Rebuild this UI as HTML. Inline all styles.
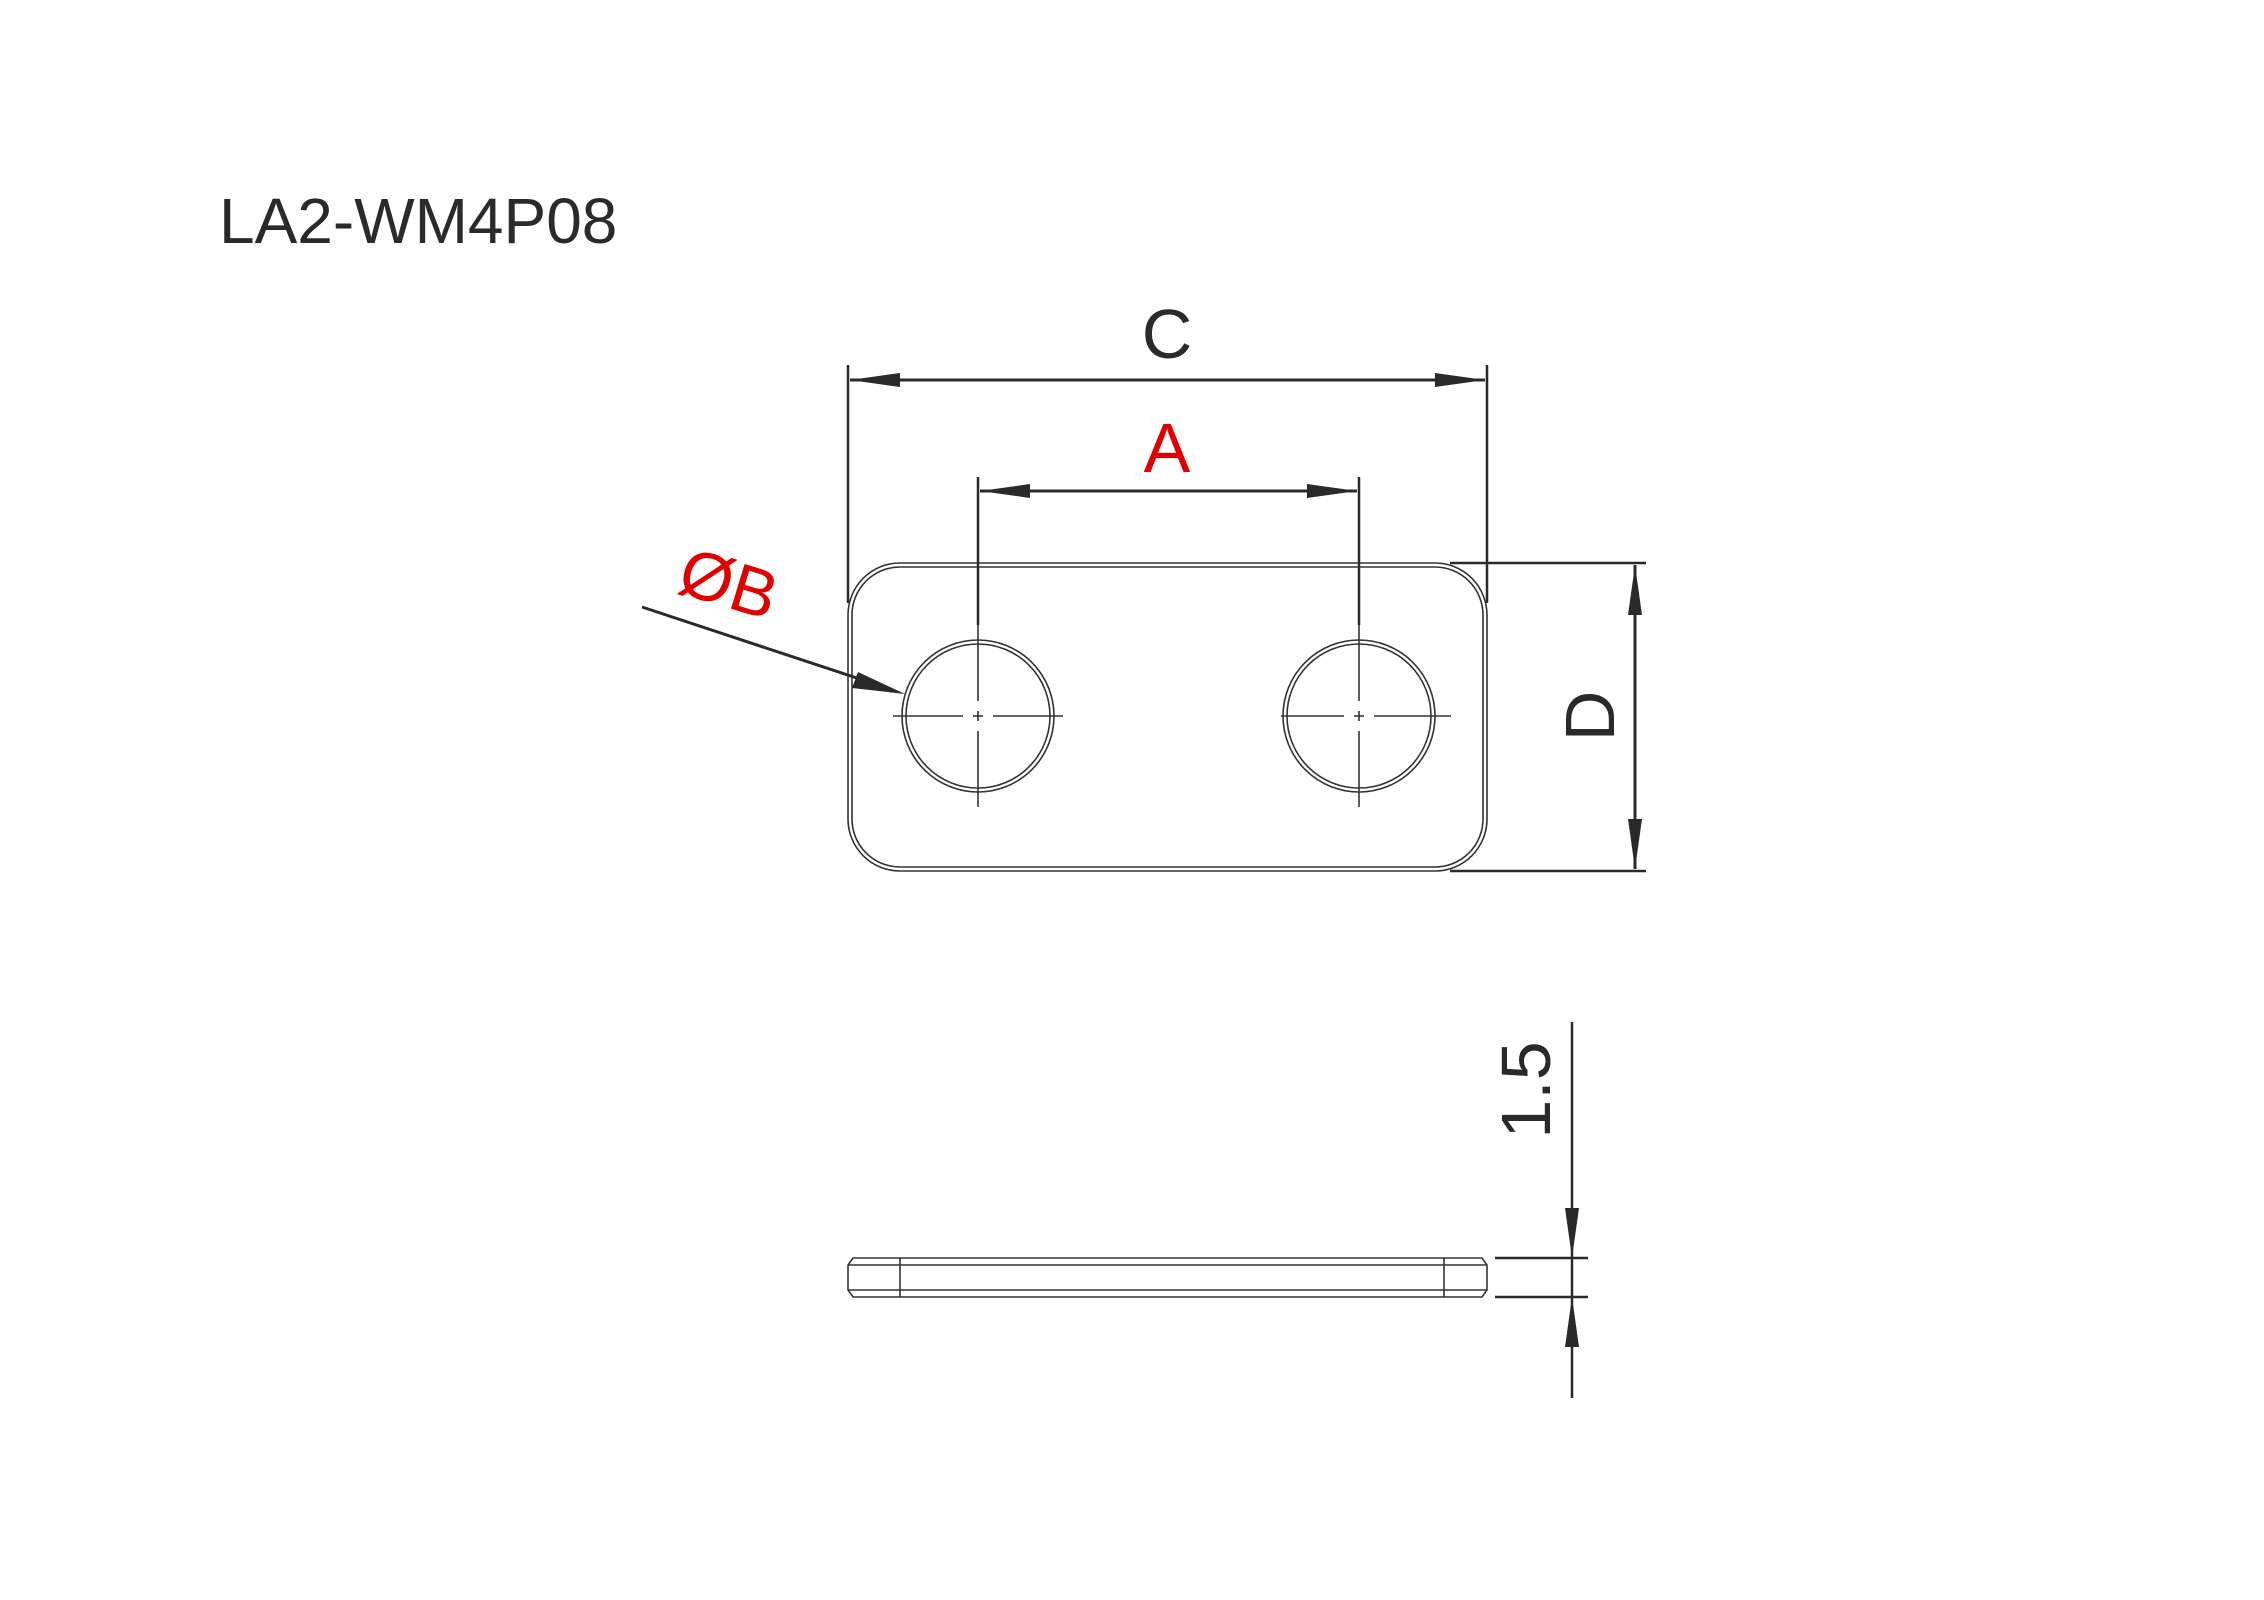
<!DOCTYPE html>
<html><head><meta charset="utf-8"><style>
html,body{margin:0;padding:0;background:#fff;}
svg{display:block;}
text{font-family:"Liberation Sans",sans-serif;}
</style></head><body>
<svg width="2264" height="1600" viewBox="0 0 2264 1600" xmlns="http://www.w3.org/2000/svg">
<rect width="2264" height="1600" fill="#fff"/>
<text x="219" y="243" font-size="64" fill="#2a2a2a">LA2-WM4P08</text>

<g stroke="#2a2a2a" fill="none" stroke-width="2.5">
  <line x1="848" y1="365" x2="848" y2="603"/>
  <line x1="1487" y1="365" x2="1487" y2="603"/>
  <line x1="850" y1="380" x2="1485" y2="380" stroke-width="3"/>
  <line x1="978" y1="477" x2="978" y2="625"/>
  <line x1="1359" y1="477" x2="1359" y2="625"/>
  <line x1="980" y1="491" x2="1357" y2="491" stroke-width="3"/>
  <line x1="1450" y1="563" x2="1646" y2="563"/>
  <line x1="1450" y1="871" x2="1646" y2="871"/>
  <line x1="1635" y1="565" x2="1635" y2="869" stroke-width="3"/>
  <line x1="642" y1="607" x2="890" y2="689" stroke-width="3"/>
</g>
<g fill="#2a2a2a">
  <polygon points="850,380 900,373 900,387"/>
  <polygon points="1485,380 1435,373 1435,387"/>
  <polygon points="980,491 1030,484 1030,498"/>
  <polygon points="1357,491 1307,484 1307,498"/>
  <polygon points="1635,565 1628,615 1642,615"/>
  <polygon points="1635,869 1628,819 1642,819"/>
  <polygon points="905,694 858,672 852,688"/>
</g>

<g stroke="#333" fill="none" stroke-width="1.6">
  <rect x="848" y="563" width="639" height="308" rx="52"/>
  <rect x="852" y="567" width="631" height="300" rx="48"/>
  <circle cx="978" cy="716" r="76"/>
  <circle cx="978" cy="716" r="72"/>
  <circle cx="1359" cy="716" r="76"/>
  <circle cx="1359" cy="716" r="72"/>
</g>
<g stroke="#333" fill="none" stroke-width="1.6">
  <line x1="893" y1="716" x2="963" y2="716"/><line x1="973" y1="716" x2="983" y2="716"/><line x1="993" y1="716" x2="1063" y2="716"/>
  <line x1="978" y1="625" x2="978" y2="701"/><line x1="978" y1="711" x2="978" y2="721"/><line x1="978" y1="731" x2="978" y2="807"/>
  <line x1="1281" y1="716" x2="1344" y2="716"/><line x1="1354" y1="716" x2="1364" y2="716"/><line x1="1374" y1="716" x2="1451" y2="716"/>
  <line x1="1359" y1="625" x2="1359" y2="701"/><line x1="1359" y1="711" x2="1359" y2="721"/><line x1="1359" y1="731" x2="1359" y2="807"/>
</g>

<text x="1167" y="358" font-size="70" fill="#2a2a2a" text-anchor="middle">C</text>
<text x="1167" y="472" font-size="70" fill="#e00000" text-anchor="middle">A</text>
<text transform="translate(1614,716) rotate(-90)" font-size="70" fill="#2a2a2a" text-anchor="middle">D</text>
<text transform="translate(722,606) rotate(17)" font-size="68" fill="#e00000" text-anchor="middle">ØB</text>

<g stroke="#333" fill="none" stroke-width="1.6">
  <polygon points="853,1258 1482,1258 1487,1265 1487,1290 1482,1297 853,1297 848,1290 848,1265"/>
  <line x1="848" y1="1265" x2="1487" y2="1265"/>
  <line x1="848" y1="1290" x2="1487" y2="1290"/>
  <line x1="900" y1="1258" x2="900" y2="1297"/>
  <line x1="1444" y1="1258" x2="1444" y2="1297"/>
</g>
<g stroke="#2a2a2a" fill="none" stroke-width="2.5">
  <line x1="1495" y1="1258" x2="1588" y2="1258"/>
  <line x1="1495" y1="1297" x2="1588" y2="1297"/>
  <line x1="1572" y1="1022" x2="1572" y2="1398"/>
</g>
<g fill="#2a2a2a">
  <polygon points="1572,1258 1565,1208 1579,1208"/>
  <polygon points="1572,1297 1565,1347 1579,1347"/>
</g>
<text transform="translate(1550,1090) rotate(-90)" font-size="70" fill="#2a2a2a" text-anchor="middle">1.5</text>
</svg>
</body></html>
